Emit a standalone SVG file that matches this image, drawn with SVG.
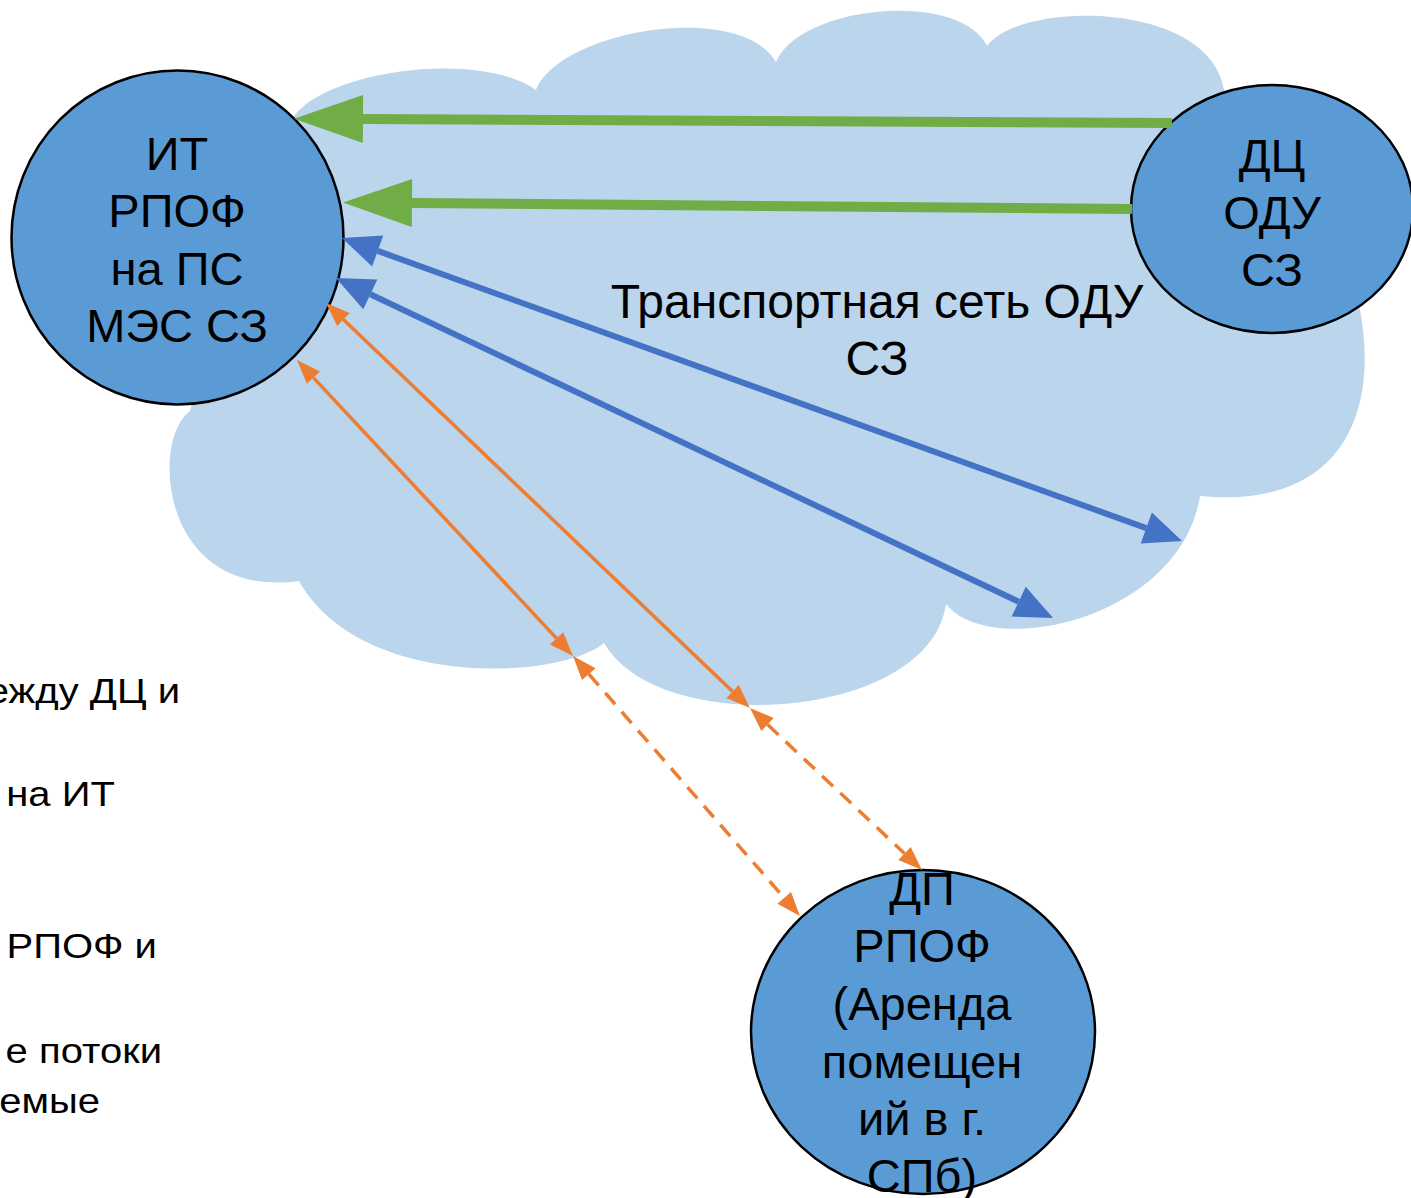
<svg xmlns="http://www.w3.org/2000/svg" width="1411" height="1198" viewBox="0 0 1411 1198">
<style>
.t{font-family:"Liberation Sans",Arial,sans-serif;fill:#000;}
.nt{font-size:47px;text-anchor:middle;}
.lt{font-size:34.5px;text-anchor:end;}
.node{fill:#5B9BD5;stroke:#000;stroke-width:2.5;}
.g{stroke:#70AD47;stroke-width:10;fill:none;}
.b{stroke:#4472C4;stroke-width:6;fill:none;}
.o{stroke:#ED7D31;stroke-width:3.5;fill:none;}
.od{stroke:#ED7D31;stroke-width:3.5;fill:none;stroke-dasharray:15 10;}
</style>
<defs>
<marker id="mg" markerUnits="userSpaceOnUse" viewBox="0 -25 70 50" refX="0" refY="0" markerWidth="70" markerHeight="50" orient="auto-start-reverse" overflow="visible">
<path d="M0,-24 L69,0 L0,24 Z" fill="#70AD47"/>
</marker>
<marker id="mb" markerUnits="userSpaceOnUse" viewBox="0 -17 40 34" refX="0" refY="0" markerWidth="40" markerHeight="34" orient="auto-start-reverse" overflow="visible">
<path d="M0,-16.5 L38,0 L0,16.5 Z" fill="#4472C4"/>
</marker>
<marker id="mo" markerUnits="userSpaceOnUse" viewBox="0 -10 26 20" refX="0" refY="0" markerWidth="26" markerHeight="20" orient="auto-start-reverse" overflow="visible">
<path d="M0,-9 L24,0 L0,9 Z" fill="#ED7D31"/>
</marker>
</defs>

<g id="cloud">
<path fill="#BAD5EC" d="M295,115 C330,70 480,50 536,90 C560,30 740,0 776,62 C800,5 960,-10 987,46 C1020,0 1210,0 1224,90 C1380,200 1450,520 1200,496 C1180,620 990,660 946,604 C930,720 660,740 604,643 C560,680 360,690 299,581 C160,600 150,440 190,411 Q220,300 295,115 Z"/>
</g>

<g id="node-it">
<ellipse class="node" cx="177.5" cy="237.5" rx="166" ry="167"/>
<text class="t nt" x="177" y="170">ИТ</text>
<text class="t nt" x="177" y="227">РПОФ</text>
<text class="t nt" x="177" y="285">на ПС</text>
<text class="t nt" x="177" y="342">МЭС СЗ</text>
</g>

<g id="node-odu">
<ellipse class="node" cx="1272" cy="209" rx="141" ry="124"/>
<text class="t nt" x="1272" y="172">ДЦ</text>
<text class="t nt" x="1272" y="229">ОДУ</text>
<text class="t nt" x="1272" y="286">СЗ</text>
</g>

<g id="node-dp">
<ellipse class="node" cx="923" cy="1032" rx="172" ry="162"/>
<text class="t nt" x="922" y="905">ДП</text>
<text class="t nt" x="922" y="962">РПОФ</text>
<text class="t nt" x="922" y="1020">(Аренда</text>
<text class="t nt" x="922" y="1078">помещен</text>
<text class="t nt" x="922" y="1135">ий в г.</text>
<text class="t nt" x="922" y="1192">СПб)</text>
</g>

<g id="label-net">
<text class="t nt" x="877" y="318" style="font-size:48px">Транспортная сеть ОДУ</text>
<text class="t nt" x="877" y="375" style="font-size:48px">СЗ</text>
</g>

<g id="connectors">
<line class="g" x1="1172" y1="123" x2="363" y2="119" marker-end="url(#mg)"/>
<line class="g" x1="1132" y1="209" x2="412" y2="203" marker-end="url(#mg)"/>
<line class="b" x1="377.7" y1="250.9" x2="1146.3" y2="528.1" marker-start="url(#mb)" marker-end="url(#mb)"/>
<line class="b" x1="370.3" y1="294.3" x2="1018.7" y2="601.7" marker-start="url(#mb)" marker-end="url(#mb)"/>
<line class="o" x1="313.4" y1="377.6" x2="556.6" y2="638.4" marker-start="url(#mo)" marker-end="url(#mo)"/>
<line class="o" x1="343.4" y1="319.6" x2="732.6" y2="691.4" marker-start="url(#mo)" marker-end="url(#mo)"/>
<line class="od" x1="588.8" y1="674.1" x2="784.2" y2="897.9" marker-start="url(#mo)" marker-end="url(#mo)"/>
<line class="od" x1="767.5" y1="724.5" x2="904.5" y2="853.5" marker-start="url(#mo)" marker-end="url(#mo)"/>
</g>

<g id="left-text" transform="scale(1.16 1)">
<text class="t lt" x="155.2" y="703">ежду ДЦ и</text>
<text class="t lt" x="99.1" y="806">на ИТ</text>
<text class="t lt" x="135.3" y="958">РПОФ и</text>
<text class="t lt" x="139.7" y="1063">е потоки</text>
<text class="t lt" x="86.2" y="1113">емые</text>
</g>
</svg>
